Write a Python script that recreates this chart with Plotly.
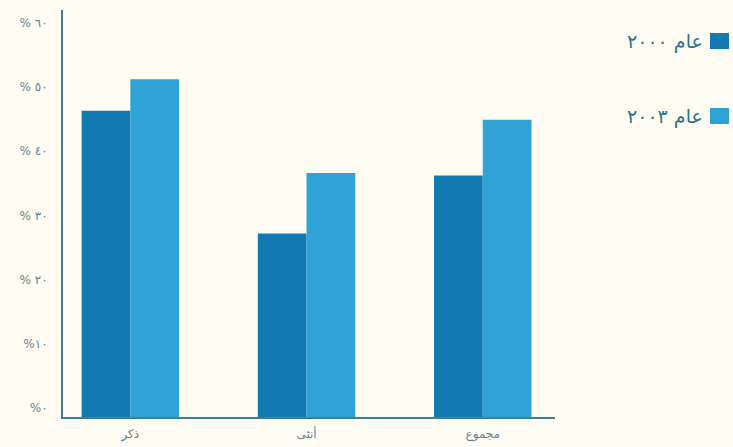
import plotly.graph_objects as go

categories = ["ذكر", "أنثى", "مجموع"]
values_2000 = [47.7, 28.6, 37.6]
values_2003 = [52.6, 38, 46.3]
series_names = ["عام ٢٠٠٠", "عام ٢٠٠٣"]
tick_vals = [0, 10, 20, 30, 40, 50, 60]
tick_text = ["%٠", "%١٠", "% ٢٠", "% ٣٠", "% ٤٠", "% ٥٠", "% ٦٠"]

dark = "#127ab0"
light = "#2fa2d6"
bg = "#fffdf3"
axis_col = "#3f7f8e"
text_col = "#5f8494"
font = "DejaVu Sans"

PLOT_L, PLOT_R, PLOT_T, PLOT_B = 63, 555, 10, 417
W, H = 733, 447
pw, ph = PLOT_R - PLOT_L, PLOT_B - PLOT_T

fig = go.Figure()
fig.add_trace(go.Bar(x=categories, y=values_2000, name=series_names[0],
                     marker=dict(color=dark, line=dict(width=0))))
fig.add_trace(go.Bar(x=categories, y=values_2003, name=series_names[1],
                     marker=dict(color=light, line=dict(width=0))))

fig.update_layout(
    width=W, height=H,
    margin=dict(l=PLOT_L, r=W - PLOT_R, t=PLOT_T, b=H - PLOT_B),
    paper_bgcolor=bg, plot_bgcolor=bg,
    barmode="group", bargap=0.447, bargroupgap=0,
    showlegend=False,
    font=dict(family=font, color=text_col),
)
fig.update_xaxes(
    type="category", range=[-0.382, 2.41], automargin=False,
    showline=True, linecolor=axis_col, linewidth=2,
    showgrid=False, zeroline=False, ticks="",
    tickfont=dict(size=12, color=text_col, family=font),
    ticklabelstandoff=5,
)
fig.update_yaxes(
    range=[0, 63.4], tickvals=tick_vals, ticktext=tick_text, automargin=False,
    showline=True, linecolor=axis_col, linewidth=2,
    showgrid=False, zeroline=False, ticks="",
    tickfont=dict(size=12, color=text_col, family=font),
    ticklabelstandoff=11, ticklabelshift=-9,
)

# legend drawn at the right, square to the right of text (RTL style)
legend_items = [(series_names[0], dark, 41), (series_names[1], light, 116)]
for name, col, yc in legend_items:
    fig.add_shape(type="rect", xref="paper", yref="paper",
                  x0=(710 - PLOT_L) / pw, x1=(729 - PLOT_L) / pw,
                  y0=(PLOT_B - (yc + 8)) / ph, y1=(PLOT_B - (yc - 8)) / ph,
                  fillcolor=col, line=dict(width=0))
    fig.add_annotation(text=name, xref="paper", yref="paper",
                       x=(705 - PLOT_L) / pw, y=(PLOT_B - yc) / ph,
                       xanchor="right", yanchor="middle", showarrow=False,
                       font=dict(size=19, color="#2f7284", family=font))

fig.write_html("out.html")
